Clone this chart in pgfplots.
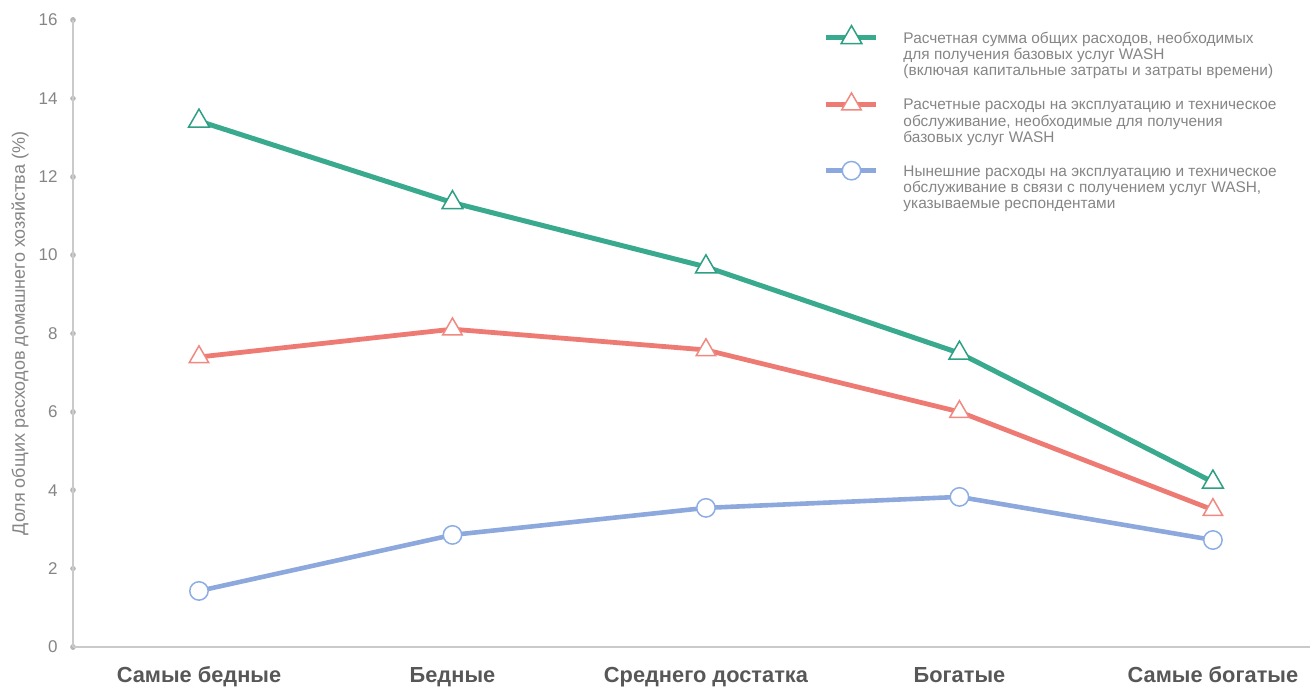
\documentclass[border=0pt]{standalone}
\usepackage{pgfplots}
\pgfplotsset{compat=1.18}
\usepackage{fontspec}
\setmainfont{Liberation Sans}

\definecolor{cGreen}{HTML}{3AAA8E}
\definecolor{cGreenD}{HTML}{2E9F83}
\definecolor{cRed}{HTML}{EE7B73}
\definecolor{cRedL}{HTML}{F08981}
\definecolor{cBlue}{HTML}{8CA8DC}
\definecolor{cBlueL}{HTML}{8DAEE4}
\definecolor{axisgray}{HTML}{CACACA}
\definecolor{labelgray}{HTML}{858585}
\definecolor{catgray}{HTML}{575757}

\newcommand{\legtext}[1]{{\fontsize{7.7}{8}\selectfont\begin{tabular}[t]{@{}l@{}}#1\end{tabular}}}

\begin{document}
\begin{tikzpicture}
\path[use as bounding box] (-36.5pt,-21pt) rectangle (618.5pt,323.5pt);
\begin{axis}[
  scale only axis,
  width=618.5pt, height=313.5pt,
  xmin=-0.497, xmax=4.383,
  ymin=0, ymax=16,
  axis lines=left,
  axis line style={-, draw=axisgray, line width=1pt},
  clip=false,
  xtick={0,1,2,3,4},
  xticklabels={Самые бедные, Бедные, Среднего достатка, Богатые, Самые богатые},
  xtick style={draw=none},
  xticklabel style={anchor=base, inner sep=0pt, yshift=-17.5pt,
    font=\bfseries\fontsize{10.9}{12}\selectfont, text=catgray},
  ytick={0,2,...,16},
  ytick style={draw=axisgray!90!black, line width=2.8pt, line cap=round},
  major tick style={line width=2.8pt, line cap=round},
  major tick length=0.02pt,
  tick align=center,
  yticklabel style={anchor=east, inner sep=0pt, xshift=-7.5pt,
    font=\fontsize{8.5}{10}\selectfont, text=labelgray},
  /pgf/number format/assume math mode=true,
  ylabel={Доля общих расходов домашнего хозяйства (\%)},
  every axis y label/.style={at={(axis description cs:-0.0428,0.5)}, rotate=90,
    anchor=center, font=\fontsize{9}{10}\selectfont, text=labelgray},
  legend style={at={(axis description cs:0.6088,0.9876)}, anchor=north west,
    draw=none, fill=none, inner sep=0pt,
    /tikz/row sep=9.25pt, /tikz/column sep=13.5pt,
    nodes={inner sep=0pt, text=labelgray}},
  legend cell align=left,
  legend image code/.code={
    \pgfpathrectangle{\pgfpoint{0pt}{-18.4pt}}{\pgfpoint{25pt}{24pt}}
    \pgfusepath{use as bounding box}
    \draw[mark repeat=2,mark phase=2] plot coordinates {(0pt,0.85pt) (12.5pt,0.85pt) (25pt,0.85pt)};
  },
]

% total cost of basic WASH services
\addplot[color=cGreen, line width=2.5pt, mark=triangle*, mark size=6pt,
  mark options={solid, fill=white, draw=cGreenD, line width=0.75pt}]
  coordinates {(0,13.42) (1,11.34) (2,9.70) (3,7.50) (4,4.21)};
\addlegendentry{\legtext{Расчетная сумма общих расходов, необходимых\\для получения базовых услуг WASH\\(включая капитальные затраты и затраты времени)}}

% required O&M cost
\addplot[color=cRed, line width=2.4pt, mark=triangle*, mark size=5.6pt,
  mark options={solid, fill=white, draw=cRedL, line width=0.75pt}]
  coordinates {(0,7.40) (1,8.11) (2,7.58) (3,6.00) (4,3.50)};
\addlegendentry{\legtext{Расчетные расходы на эксплуатацию и техническое\\обслуживание, необходимые для получения\\базовых услуг WASH}}

% reported current O&M cost
\addplot[color=cBlue, line width=2.3pt, mark=*, mark size=4.6pt,
  mark options={solid, fill=white, draw=cBlueL, line width=0.75pt}]
  coordinates {(0,1.43) (1,2.86) (2,3.55) (3,3.83) (4,2.73)};
\addlegendentry{\legtext{Нынешние расходы на эксплуатацию и техническое\\обслуживание в связи с получением услуг WASH,\\указываемые респондентами}}

\end{axis}
\end{tikzpicture}
\end{document}
